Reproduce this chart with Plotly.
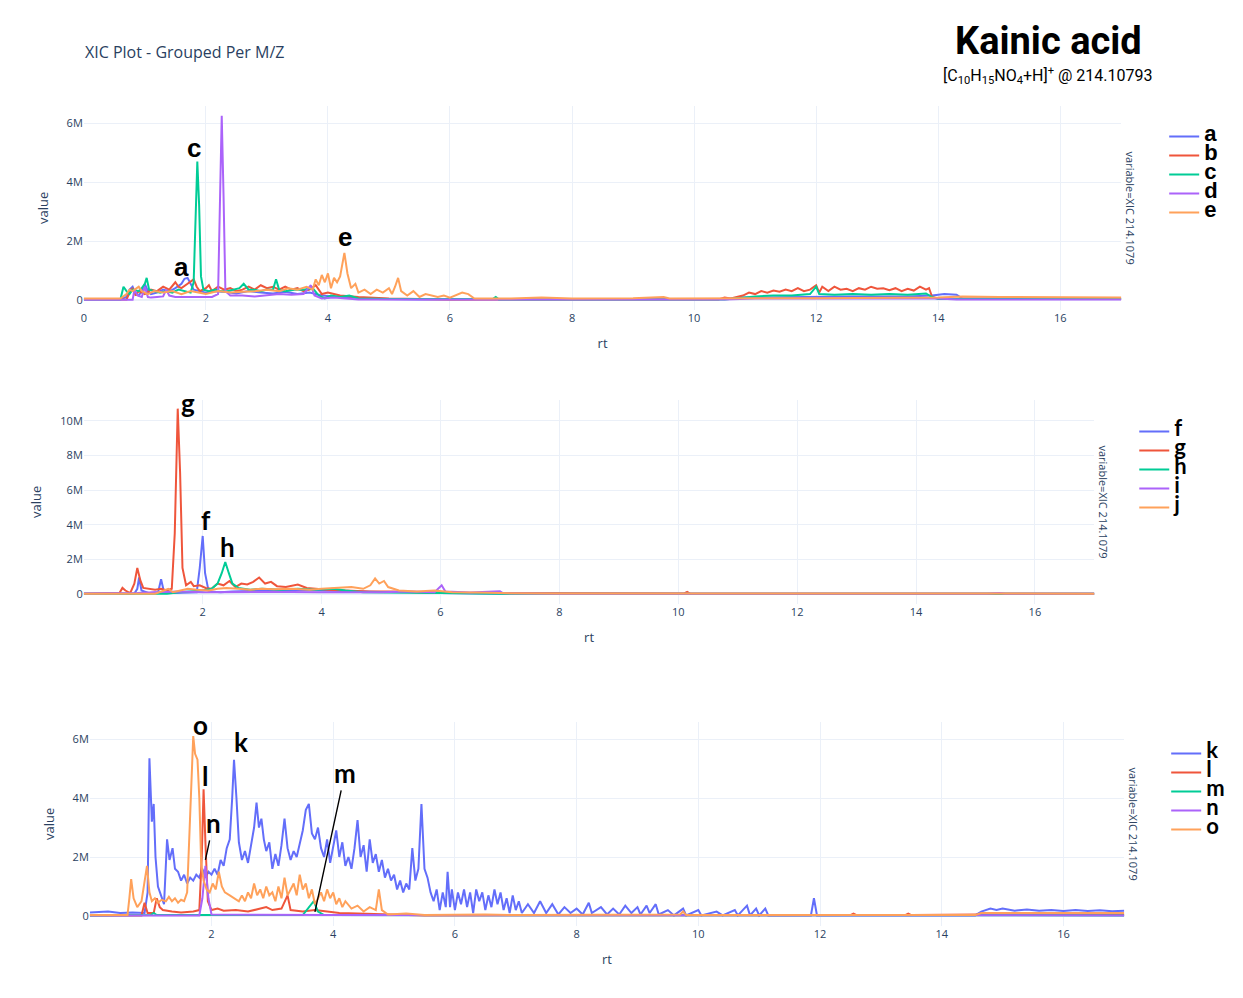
import plotly.graph_objects as go

# ---------------- data (rt in min, value in millions) ----------------
a = [(0,0.03),(0.6,0.03),(0.7,0.1),(0.75,0.35),(0.8,0.45),(0.85,0.2),(0.9,0.15),(0.95,0.3),(1.0,0.55),(1.05,0.3),(1.1,0.2),(1.2,0.25),(1.3,0.35),(1.4,0.28),(1.5,0.4),(1.6,0.55),(1.65,0.72),(1.7,0.75),(1.75,0.55),(1.8,0.35),(1.9,0.3),(2.0,0.25),(2.1,0.3),(2.3,0.28),(2.5,0.22),(2.7,0.3),(2.9,0.25),(3.1,0.22),(3.3,0.28),(3.5,0.2),(3.7,0.25),(3.9,0.15),(4.1,0.12),(4.3,0.1),(4.5,0.06),(4.8,0.03),(5.5,0.02),(8,0.02),(10.5,0.03),(10.8,0.08),(11.5,0.1),(12.5,0.12),(13.5,0.12),(13.9,0.15),(14.1,0.2),(14.3,0.18),(14.4,0.05),(17,0.05)]
b = [(0,0.02),(0.7,0.02),(0.75,0.25),(0.8,0.4),(0.85,0.15),(0.9,0.3),(1.0,0.2),(1.1,0.35),(1.2,0.3),(1.3,0.45),(1.4,0.35),(1.5,0.6),(1.55,0.45),(1.6,0.4),(1.7,0.55),(1.8,0.7),(1.85,0.45),(1.9,0.3),(2.0,0.4),(2.05,0.5),(2.1,0.3),(2.2,0.45),(2.3,0.35),(2.4,0.4),(2.5,0.3),(2.6,0.35),(2.7,0.45),(2.8,0.35),(2.9,0.5),(3.0,0.4),(3.1,0.45),(3.2,0.35),(3.3,0.45),(3.4,0.35),(3.5,0.4),(3.6,0.3),(3.7,0.35),(3.8,0.5),(3.9,0.2),(4.0,0.25),(4.2,0.15),(4.5,0.1),(5.0,0.05),(6,0.02),(10.4,0.02),(10.5,0.08),(10.6,0.05),(10.8,0.15),(10.9,0.25),(11.0,0.2),(11.1,0.3),(11.2,0.25),(11.3,0.32),(11.4,0.28),(11.5,0.35),(11.6,0.3),(11.7,0.4),(11.8,0.3),(11.9,0.35),(12.0,0.5),(12.05,0.25),(12.1,0.45),(12.2,0.3),(12.3,0.45),(12.4,0.35),(12.5,0.38),(12.6,0.3),(12.7,0.4),(12.8,0.35),(12.9,0.45),(13.0,0.38),(13.1,0.4),(13.2,0.33),(13.3,0.4),(13.4,0.3),(13.5,0.38),(13.6,0.32),(13.7,0.45),(13.8,0.35),(13.85,0.4),(13.9,0.1),(14.0,0.05),(17,0.03)]
c = [(0,0.02),(0.6,0.02),(0.65,0.45),(0.7,0.3),(0.75,0.2),(0.8,0.35),(0.9,0.3),(0.95,0.4),(1.0,0.55),(1.03,0.75),(1.07,0.35),(1.15,0.3),(1.25,0.25),(1.35,0.3),(1.45,0.25),(1.55,0.35),(1.65,0.3),(1.75,0.25),(1.8,0.6),(1.83,3.0),(1.86,4.7),(1.89,3.2),(1.92,0.8),(1.96,0.35),(2.05,0.3),(2.15,0.35),(2.25,0.3),(2.35,0.3),(2.45,0.35),(2.55,0.4),(2.62,0.55),(2.7,0.35),(2.8,0.35),(2.9,0.3),(3.0,0.35),(3.1,0.35),(3.15,0.7),(3.2,0.35),(3.3,0.3),(3.45,0.35),(3.6,0.35),(3.75,0.4),(3.85,0.15),(3.95,0.05),(4.05,0.15),(4.2,0.1),(4.35,0.15),(4.5,0.05),(5.0,0.03),(6.7,0.03),(6.75,0.1),(6.8,0.02),(10.5,0.02),(10.8,0.08),(11.0,0.12),(11.3,0.15),(11.6,0.15),(11.9,0.2),(12.0,0.45),(12.05,0.2),(12.3,0.18),(12.6,0.2),(12.9,0.18),(13.2,0.2),(13.5,0.18),(13.8,0.22),(13.9,0.1),(14.0,0.03),(17,0.03)]
d = [(0,0.01),(0.8,0.01),(0.83,0.35),(0.88,0.15),(0.95,0.1),(1.0,0.45),(1.05,0.1),(1.1,0.08),(1.2,0.1),(1.3,0.12),(1.35,0.35),(1.4,0.15),(1.5,0.1),(1.7,0.1),(1.9,0.12),(2.1,0.1),(2.2,0.2),(2.23,3.5),(2.26,6.25),(2.29,3.5),(2.32,0.3),(2.4,0.15),(2.6,0.15),(2.8,0.12),(3.0,0.15),(3.2,0.2),(3.4,0.18),(3.6,0.2),(3.72,0.5),(3.78,0.15),(3.9,0.05),(4.1,0.08),(4.3,0.05),(4.5,0.02),(10.5,0.02),(11,0.05),(14,0.05),(14.3,0.02),(17,0.02)]
e = [(0,0.05),(0.6,0.05),(0.7,0.2),(0.75,0.35),(0.8,0.3),(0.9,0.45),(0.95,0.3),(1.05,0.2),(1.15,0.3),(1.3,0.25),(1.45,0.3),(1.6,0.2),(1.75,0.3),(1.9,0.25),(2.0,0.2),(2.2,0.3),(2.4,0.25),(2.6,0.28),(2.8,0.3),(3.0,0.35),(3.2,0.3),(3.35,0.4),(3.5,0.35),(3.65,0.45),(3.75,0.35),(3.8,0.7),(3.85,0.5),(3.9,0.85),(3.95,0.6),(4.0,0.9),(4.05,0.4),(4.1,0.75),(4.15,0.6),(4.2,0.8),(4.27,1.6),(4.32,0.9),(4.38,0.4),(4.45,0.55),(4.5,0.25),(4.6,0.35),(4.7,0.2),(4.8,0.35),(4.9,0.25),(5.0,0.4),(5.05,0.2),(5.1,0.45),(5.15,0.75),(5.2,0.3),(5.3,0.15),(5.4,0.3),(5.5,0.1),(5.6,0.2),(5.8,0.1),(5.9,0.15),(6.0,0.08),(6.2,0.25),(6.3,0.2),(6.4,0.05),(7,0.05),(7.5,0.08),(8,0.05),(9,0.06),(9.5,0.1),(9.6,0.05),(10.5,0.05),(12,0.06),(14,0.08),(14.4,0.12),(15,0.1),(16,0.08),(17,0.08)]

f = [(0,0.02),(0.85,0.02),(0.9,0.3),(0.93,0.95),(0.97,0.2),(1.1,0.05),(1.25,0.1),(1.3,0.85),(1.35,0.1),(1.5,0.05),(1.9,0.1),(1.95,1.5),(2.0,3.35),(2.04,1.2),(2.1,0.15),(2.3,0.1),(2.5,0.15),(3.0,0.2),(3.5,0.25),(4.0,0.2),(4.5,0.15),(5.0,0.12),(5.5,0.1),(6.0,0.05),(7,0.02),(17,0.02)]
g = [(0,0.02),(0.6,0.05),(0.65,0.35),(0.7,0.2),(0.78,0.05),(0.85,0.6),(0.9,1.5),(0.95,0.8),(1.0,0.35),(1.1,0.3),(1.2,0.25),(1.3,0.3),(1.4,0.2),(1.48,0.3),(1.53,3.5),(1.58,10.7),(1.62,7.0),(1.66,1.5),(1.72,0.5),(1.8,0.7),(1.85,0.45),(1.95,0.5),(2.05,0.35),(2.15,0.3),(2.25,0.6),(2.35,0.5),(2.45,0.75),(2.55,0.4),(2.65,0.6),(2.75,0.55),(2.85,0.7),(2.95,0.95),(3.05,0.6),(3.15,0.7),(3.25,0.45),(3.4,0.4),(3.6,0.55),(3.75,0.35),(3.9,0.3),(4.1,0.25),(4.4,0.2),(4.8,0.15),(5.2,0.15),(5.6,0.1),(6.0,0.1),(6.5,0.05),(7.0,0.05),(8.0,0.03),(10.1,0.03),(10.15,0.12),(10.2,0.02),(17,0.02)]
h = [(0,0.01),(1.4,0.02),(1.6,0.1),(1.8,0.15),(2.0,0.2),(2.15,0.3),(2.25,0.6),(2.32,1.2),(2.38,1.85),(2.44,1.2),(2.5,0.6),(2.6,0.35),(2.8,0.25),(3.0,0.3),(3.3,0.25),(3.6,0.3),(3.9,0.25),(4.2,0.3),(4.4,0.2),(4.7,0.1),(5.0,0.08),(5.5,0.05),(6.0,0.05),(7,0.02),(17,0.02)]
i_ = [(0,0.03),(0.9,0.05),(1.2,0.1),(1.6,0.15),(2.0,0.1),(2.5,0.12),(3.0,0.1),(3.5,0.12),(4.0,0.1),(4.5,0.1),(5.0,0.1),(5.5,0.15),(5.9,0.1),(6.02,0.5),(6.08,0.15),(6.5,0.08),(7.0,0.15),(7.05,0.05),(8,0.02),(15.2,0.02),(15.4,0.06),(15.5,0.02),(17,0.02)]
j = [(0,0.01),(1.2,0.02),(1.35,0.2),(1.42,0.3),(1.5,0.1),(1.65,0.2),(1.75,0.3),(1.9,0.25),(2.1,0.2),(2.25,0.3),(2.4,0.35),(2.6,0.3),(2.8,0.25),(3.0,0.3),(3.2,0.28),(3.5,0.3),(3.8,0.25),(4.0,0.3),(4.3,0.35),(4.5,0.4),(4.7,0.3),(4.82,0.5),(4.9,0.9),(4.97,0.6),(5.05,0.75),(5.12,0.4),(5.3,0.2),(5.6,0.15),(5.9,0.2),(6.2,0.1),(6.6,0.08),(7.0,0.05),(8.0,0.03),(17,0.02)]

k = [(0,0.12),(0.3,0.15),(0.5,0.1),(0.7,0.12),(0.9,0.1),(0.95,0.8),(0.98,5.35),(1.02,3.2),(1.05,3.8),(1.08,2.0),(1.12,1.0),(1.17,0.7),(1.22,0.4),(1.27,2.6),(1.31,1.9),(1.36,2.3),(1.4,1.6),(1.45,1.5),(1.5,1.2),(1.55,1.4),(1.6,1.1),(1.65,1.3),(1.7,1.2),(1.75,1.4),(1.8,1.3),(1.85,1.6),(1.9,1.3),(1.95,1.5),(2.0,1.4),(2.05,1.6),(2.1,1.4),(2.15,1.9),(2.2,1.7),(2.25,2.3),(2.3,2.6),(2.34,4.0),(2.37,5.3),(2.41,4.0),(2.45,2.5),(2.5,1.9),(2.55,2.2),(2.6,1.8),(2.65,2.4),(2.7,3.0),(2.74,3.85),(2.78,3.0),(2.82,3.3),(2.86,2.6),(2.9,2.2),(2.95,2.5),(3.0,1.6),(3.05,2.1),(3.1,1.7),(3.15,2.4),(3.2,3.3),(3.25,2.3),(3.3,1.9),(3.35,2.2),(3.4,2.0),(3.45,2.4),(3.5,2.9),(3.55,3.6),(3.6,3.8),(3.65,2.8),(3.7,2.6),(3.75,3.0),(3.8,2.3),(3.85,2.0),(3.9,2.6),(3.95,1.8),(4.0,2.3),(4.05,2.9),(4.1,2.0),(4.15,2.5),(4.2,1.7),(4.25,2.0),(4.3,1.6),(4.35,2.3),(4.4,3.25),(4.45,2.0),(4.5,2.4),(4.55,1.5),(4.6,2.6),(4.65,1.8),(4.7,2.1),(4.75,1.5),(4.8,1.9),(4.85,1.3),(4.9,1.6),(4.95,1.2),(5.0,1.4),(5.05,0.9),(5.1,1.2),(5.15,0.8),(5.2,1.1),(5.25,0.9),(5.3,2.3),(5.35,1.2),(5.4,1.6),(5.45,3.8),(5.5,1.6),(5.55,1.3),(5.6,0.8),(5.65,0.5),(5.7,0.9),(5.75,0.2),(5.8,0.8),(5.85,0.3),(5.88,1.5),(5.92,0.3),(5.95,0.9),(6.0,0.2),(6.05,0.8),(6.1,0.4),(6.15,0.9),(6.2,0.3),(6.25,0.8),(6.3,0.1),(6.35,0.9),(6.4,0.5),(6.45,0.8),(6.5,0.2),(6.55,0.7),(6.6,0.3),(6.65,0.9),(6.7,0.4),(6.75,0.8),(6.8,0.2),(6.85,0.6),(6.9,0.1),(6.95,0.7),(7.0,0.2),(7.05,0.5),(7.1,0.1),(7.2,0.4),(7.3,0.1),(7.4,0.5),(7.5,0.1),(7.6,0.4),(7.7,0.05),(7.8,0.3),(7.9,0.1),(8.0,0.25),(8.1,0.05),(8.2,0.45),(8.25,0.1),(8.4,0.3),(8.5,0.05),(8.6,0.25),(8.7,0.05),(8.8,0.35),(8.9,0.1),(9.0,0.3),(9.05,0.05),(9.15,0.35),(9.2,0.1),(9.3,0.4),(9.35,0.05),(9.5,0.2),(9.6,0.02),(9.75,0.25),(9.8,0.02),(10.0,0.2),(10.05,0.02),(10.3,0.15),(10.4,0.02),(10.6,0.2),(10.65,0.02),(10.8,0.35),(10.85,0.02),(10.95,0.25),(11.0,0.02),(11.1,0.25),(11.15,0.02),(11.85,0.02),(11.9,0.6),(11.95,0.02),(14.55,0.02),(14.65,0.15),(14.8,0.25),(14.9,0.2),(15.0,0.25),(15.2,0.18),(15.4,0.22),(15.6,0.18),(15.8,0.2),(16.0,0.17),(16.2,0.2),(16.4,0.17),(16.6,0.19),(16.8,0.16),(17,0.18)]
l = [(0,0.02),(0.85,0.02),(0.9,0.45),(0.95,0.1),(1.05,0.1),(1.1,0.6),(1.15,0.3),(1.2,0.2),(1.35,0.15),(1.5,0.12),(1.7,0.15),(1.8,0.2),(1.84,2.0),(1.87,4.3),(1.9,2.5),(1.94,0.5),(2.0,0.2),(2.1,0.25),(2.2,0.18),(2.4,0.2),(2.6,0.15),(2.8,0.25),(2.9,0.3),(3.0,0.2),(3.15,0.25),(3.25,0.7),(3.3,0.2),(3.5,0.15),(3.7,0.2),(3.9,0.15),(4.1,0.1),(4.4,0.08),(4.8,0.05),(5.5,0.02),(12.5,0.03),(12.55,0.08),(12.6,0.03),(13.4,0.03),(13.45,0.08),(13.5,0.03),(14.6,0.05),(17,0.04)]
m = [(0,0.02),(1.0,0.03),(1.05,0.1),(1.1,0.03),(3.5,0.03),(3.6,0.3),(3.68,0.5),(3.75,0.15),(3.85,0.03),(17,0.02)]
n = [(0,0.02),(1.8,0.02),(1.85,0.6),(1.9,1.7),(1.95,0.6),(2.0,0.05),(4.0,0.03),(17,0.02)]
o = [(0,0.03),(0.62,0.03),(0.65,0.6),(0.68,1.25),(0.72,0.6),(0.78,0.3),(0.85,0.5),(0.9,1.2),(0.94,1.7),(0.98,0.8),(1.02,0.5),(1.07,0.6),(1.12,0.45),(1.18,0.55),(1.25,0.5),(1.3,0.65),(1.35,0.5),(1.4,0.6),(1.45,0.45),(1.5,0.55),(1.55,0.5),(1.6,0.8),(1.63,2.5),(1.67,5.0),(1.7,6.1),(1.73,5.5),(1.77,5.3),(1.8,4.0),(1.83,1.8),(1.87,1.2),(1.92,0.9),(1.97,0.8),(2.02,1.1),(2.07,0.9),(2.12,1.5),(2.17,1.0),(2.22,0.8),(2.3,0.7),(2.38,0.6),(2.45,0.5),(2.5,0.7),(2.55,0.5),(2.6,0.8),(2.65,0.6),(2.7,1.1),(2.75,0.7),(2.8,0.9),(2.85,0.6),(2.9,1.0),(2.95,0.7),(3.0,0.8),(3.05,0.5),(3.1,1.0),(3.15,0.6),(3.2,1.3),(3.25,0.7),(3.3,0.9),(3.35,1.1),(3.4,0.7),(3.45,1.4),(3.5,0.9),(3.55,1.1),(3.6,0.6),(3.65,0.9),(3.7,0.4),(3.75,0.6),(3.8,0.8),(3.85,0.5),(3.9,0.9),(3.95,0.6),(4.0,0.8),(4.05,0.4),(4.1,0.6),(4.15,0.3),(4.2,0.5),(4.3,0.25),(4.4,0.35),(4.5,0.15),(4.6,0.3),(4.7,0.2),(4.75,0.9),(4.8,0.2),(4.9,0.05),(5.2,0.08),(5.5,0.03),(6.5,0.05),(7,0.03),(9.7,0.05),(9.75,0.15),(9.8,0.03),(14.55,0.03),(14.65,0.1),(17,0.1)]

panel_series = [
    [("a", a), ("b", b), ("c", c), ("d", d), ("e", e)],
    [("f", f), ("g", g), ("h", h), ("i", i_), ("j", j)],
    [("k", k), ("l", l), ("m", m), ("n", n), ("o", o)],
]
colors = ["#636EFA", "#EF553B", "#00CC96", "#AB63FA", "#FFA15A"]

# peak labels: (panel, letter, rt, value in M)
peak_labels = [
    (0, "a", 1.60, 1.12), (0, "c", 1.81, 5.15), (0, "d", 2.25, 6.75), (0, "e", 4.28, 2.14),
    (1, "g", 1.76, 11.05), (1, "f", 2.05, 4.28), (1, "h", 2.42, 2.72),
    (2, "o", 1.82, 6.47), (2, "k", 2.48, 5.90), (2, "l", 1.90, 4.75),
]
# arrow labels: (panel, letter, rt, value in M, ax, ay)
arrow_labels = [(2, "n", 1.90, 1.9, 8, -37), (2, "m", 3.70, 0.14, 30, -139)]

W, H = 1243, 998
def px(v): return v / W
def py(v): return 1 - v / H

# layout geometry
x_domains = [[px(81), px(1121)], [px(81), px(1094)], [px(87), px(1124)]]
y_domains = [[py(309.7), py(106)], [py(603.5), py(400)], [py(925.7), py(722)]]
y_ranges = [[-0.33e6, 6.58e6], [-0.55e6, 11.2e6], [-0.33e6, 6.58e6]]
tickvals_x = [[0, 2, 4, 6, 8, 10, 12, 14, 16], [2, 4, 6, 8, 10, 12, 14, 16], [2, 4, 6, 8, 10, 12, 14, 16]]
legend_pos = [(px(1164), py(122)), (px(1134), py(417)), (px(1166), py(739))]
facet_x = [px(1130), px(1103), px(1133)]
label_fonts = ["Liberation Sans", "Lato", "Lato"]

fig = go.Figure()
legend_names = ["legend", "legend2", "legend3"]
for p, series in enumerate(panel_series):
    xa = "x" if p == 0 else f"x{p+1}"
    ya = "y" if p == 0 else f"y{p+1}"
    for idx, (name, pts) in enumerate(series):
        rts = [q[0] for q in pts]
        vals = [q[1] * 1e6 for q in pts]
        fig.add_trace(go.Scatter(
            x=rts, y=vals, mode="lines", xaxis=xa, yaxis=ya,
            name=f'<span style="font-size:22px;font-family:{label_fonts[p]}"><b>{name}</b></span>',
            line=dict(color=colors[idx], width=2),
            legend=legend_names[p],
        ))

layout = dict(
    template="plotly_white",
    width=W, height=H,
    margin=dict(l=0, r=0, t=0, b=0),
    font=dict(family="Open Sans", color="#2a3f5f", size=11),
    showlegend=True,
)
for p in range(3):
    suffix = "" if p == 0 else str(p + 1)
    layout[f"xaxis{suffix}"] = dict(
        domain=x_domains[p], range=[0, 17], anchor=f"y{suffix}",
        tickvals=tickvals_x[p], title=dict(text="rt", font=dict(size=13)),
        tickfont=dict(size=11), showline=False, zeroline=False,
    )
    layout[f"yaxis{suffix}"] = dict(
        domain=y_domains[p], range=y_ranges[p], anchor=f"x{suffix}",
        title=dict(text="value", font=dict(size=13)), tickformat="~s",
        tickfont=dict(size=11), dtick=2e6,
    )
    layout[legend_names[p]] = dict(
        x=legend_pos[p][0], y=legend_pos[p][1], xanchor="left", yanchor="top",
        font=dict(size=11, color="black"), itemwidth=30, bgcolor="rgba(0,0,0,0)",
        tracegroupgap=0,
    )
fig.update_layout(**layout)

annotations = []
for (p, letter, rt, val) in peak_labels:
    suffix = "" if p == 0 else str(p + 1)
    annotations.append(dict(
        x=rt, y=val * 1e6, xref=f"x{suffix}", yref=f"y{suffix}", text=f"<b>{letter}</b>",
        showarrow=False, font=dict(size=26, color="black", family=label_fonts[p]),
    ))
for (p, letter, rt, val, axo, ayo) in arrow_labels:
    suffix = "" if p == 0 else str(p + 1)
    annotations.append(dict(
        x=rt, y=val * 1e6, xref=f"x{suffix}", yref=f"y{suffix}", text=f"<b>{letter}</b>",
        showarrow=True, arrowhead=0, arrowwidth=1.4, arrowcolor="black", ax=axo, ay=ayo,
        font=dict(size=26, color="black", family=label_fonts[p]),
    ))
for p in range(3):
    annotations.append(dict(
        x=facet_x[p], y=(y_domains[p][0] + y_domains[p][1]) / 2, xref="paper", yref="paper",
        xanchor="center", yanchor="middle",
        text="variable=XIC 214.1079", textangle=90, showarrow=False,
        font=dict(size=11, color="#2a3f5f"),
    ))
annotations += [
    dict(x=px(80), y=py(52), xref="paper", yref="paper", xanchor="left", yanchor="middle",
         text="XIC Plot - Grouped Per M/Z", showarrow=False, font=dict(size=16, color="#2a3f5f")),
    dict(x=px(1048), y=py(41), xref="paper", yref="paper", xanchor="center", yanchor="middle",
         text="<b>Kainic acid</b>", showarrow=False,
         font=dict(size=38, color="black", family="Roboto")),
    dict(x=px(1048), y=py(75), xref="paper", yref="paper", xanchor="center", yanchor="middle",
         text="[C<sub>10</sub>H<sub>15</sub>NO<sub>4</sub>+H]<sup>+</sup> @ 214.10793", showarrow=False,
         font=dict(size=16, color="black", family="Roboto")),
]
fig.update_layout(annotations=annotations)

fig.write_html("out.html", config={"displayModeBar": False})

# remove the default page margin so the figure sits at the window's top-left corner
with open("out.html", "r", encoding="utf-8") as fh:
    page = fh.read()
page = page.replace("<body>", '<body style="margin:0;padding:0;">', 1)
with open("out.html", "w", encoding="utf-8") as fh:
    fh.write(page)
